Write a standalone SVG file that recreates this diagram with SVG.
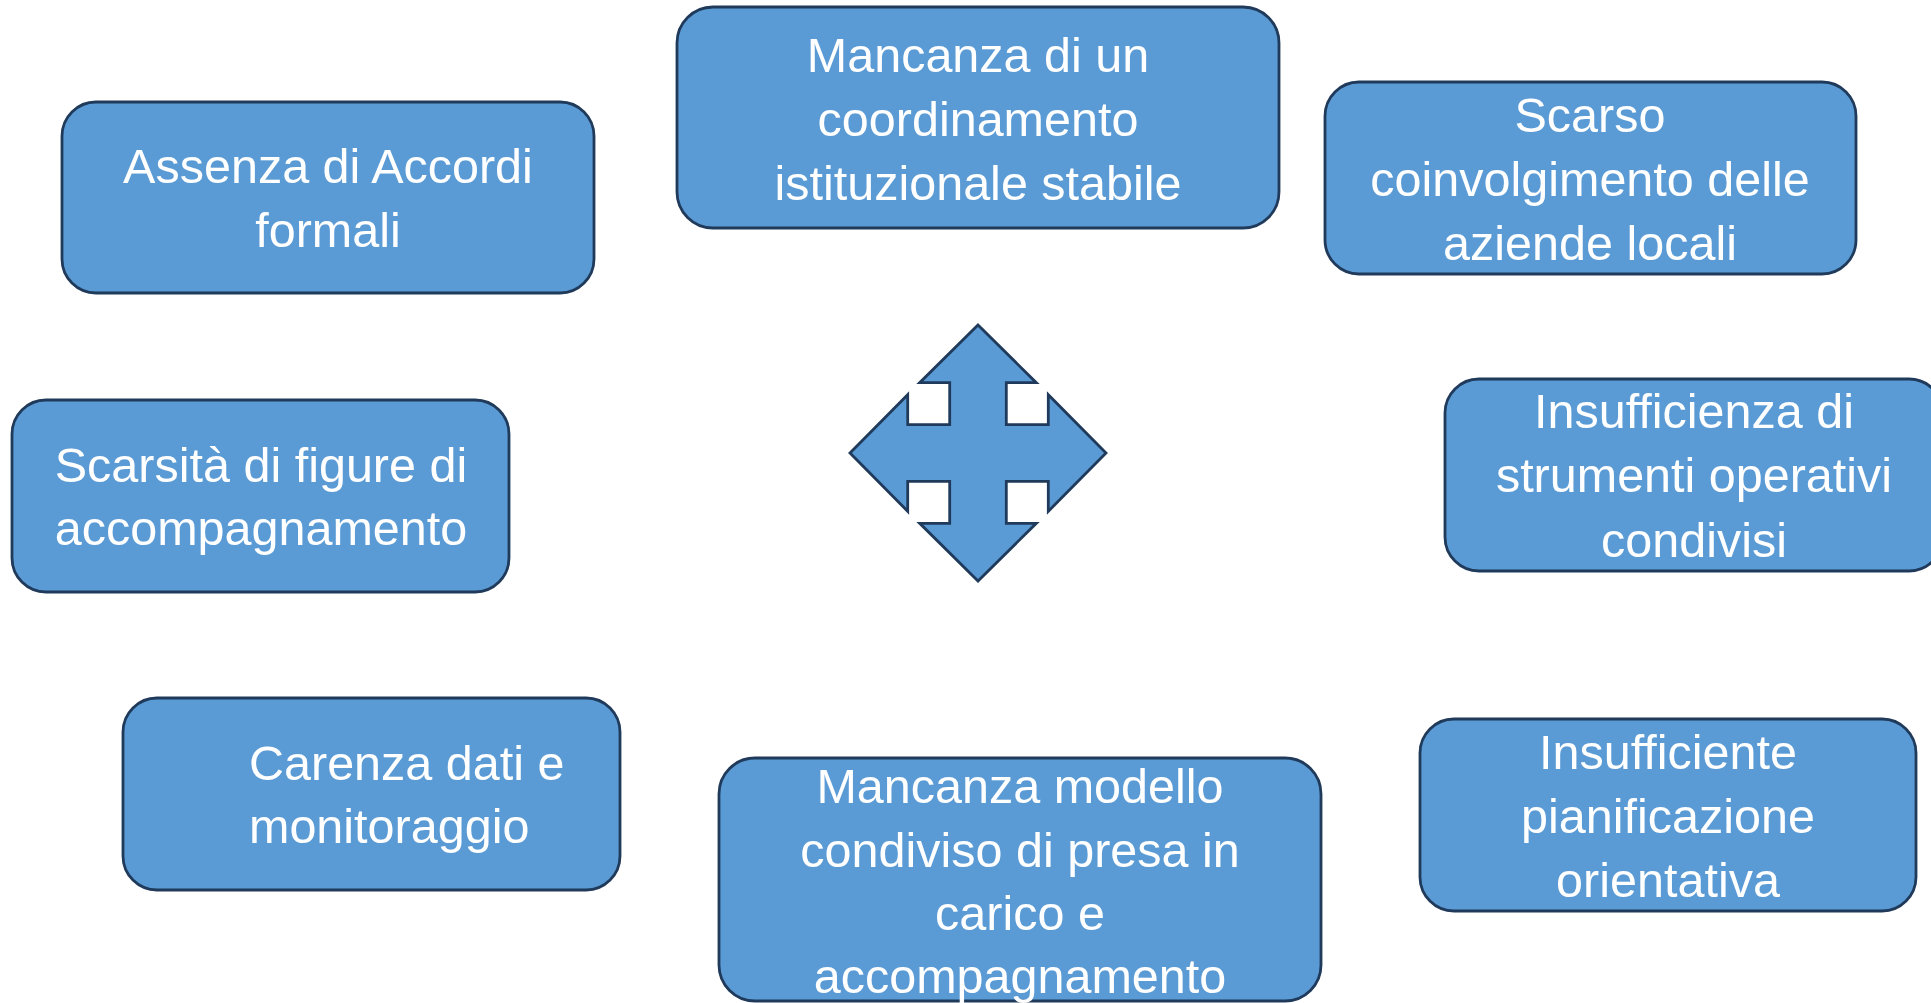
<svg xmlns="http://www.w3.org/2000/svg" width="1931" height="1003" viewBox="0 0 1931 1003">
<style>
.box{fill:#5B9BD5;stroke:#1F3A5A;stroke-width:2.8}
.t{font-family:"Liberation Sans",Arial,sans-serif;font-size:48.5px;fill:#FFFFFF;text-anchor:middle}
.ts{font-family:"Liberation Sans",Arial,sans-serif;font-size:48.5px;fill:#FFFFFF;text-anchor:start}
</style>
<rect width="1931" height="1003" fill="#FFFFFF"/>
<g id="n1">
<rect class="box" x="62" y="102" width="532" height="191" rx="34"/>
<text class="t" x="328" y="183">Assenza di Accordi</text>
<text class="t" x="328" y="247">formali</text>
</g>
<g id="n2">
<rect class="box" x="677" y="7" width="602" height="221" rx="36"/>
<text class="t" x="978" y="72">Mancanza di un</text>
<text class="t" x="978" y="136">coordinamento</text>
<text class="t" x="978" y="200">istituzionale stabile</text>
</g>
<g id="n3">
<rect class="box" x="1325" y="82" width="531" height="192" rx="34"/>
<text class="t" x="1590" y="132">Scarso</text>
<text class="t" x="1590" y="196">coinvolgimento delle</text>
<text class="t" x="1590" y="260">aziende locali</text>
</g>
<g id="n4">
<rect class="box" x="12" y="400" width="497" height="192" rx="34"/>
<text class="t" x="261" y="482">Scarsità di figure di</text>
<text class="t" x="261" y="545">accompagnamento</text>
</g>
<g id="n5">
<rect class="box" x="1445" y="379" width="498" height="192" rx="34"/>
<text class="t" x="1694" y="428">Insufficienza di</text>
<text class="t" x="1694" y="492">strumenti operativi</text>
<text class="t" x="1694" y="557">condivisi</text>
</g>
<g id="n6">
<rect class="box" x="123" y="698" width="497" height="192" rx="34"/>
<text class="ts" x="249" y="780">Carenza dati e</text>
<text class="ts" x="249" y="843">monitoraggio</text>
</g>
<g id="n7">
<rect class="box" x="719" y="758" width="602" height="243" rx="36"/>
<text class="t" x="1020" y="803">Mancanza modello</text>
<text class="t" x="1020" y="867">condiviso di presa in</text>
<text class="t" x="1020" y="930">carico e</text>
<text class="t" x="1020" y="993">accompagnamento</text>
</g>
<g id="n8">
<rect class="box" x="1420" y="719" width="496" height="192" rx="34"/>
<text class="t" x="1668" y="769">Insufficiente</text>
<text class="t" x="1668" y="833">pianificazione</text>
<text class="t" x="1668" y="897">orientativa</text>
</g>
<g id="connectors">
<polygon id="quad-arrow" class="box" points="978,325 1036.3,382.7 1006.3,382.7 1006.3,424.7 1048.3,424.7 1048.3,394.7 1106,453 1048.3,511.3 1048.3,481.3 1006.3,481.3 1006.3,523.3 1036.3,523.3 978,581 919.7,523.3 949.7,523.3 949.7,481.3 907.7,481.3 907.7,511.3 850,453 907.7,394.7 907.7,424.7 949.7,424.7 949.7,382.7 919.7,382.7"/>
</g>
</svg>
